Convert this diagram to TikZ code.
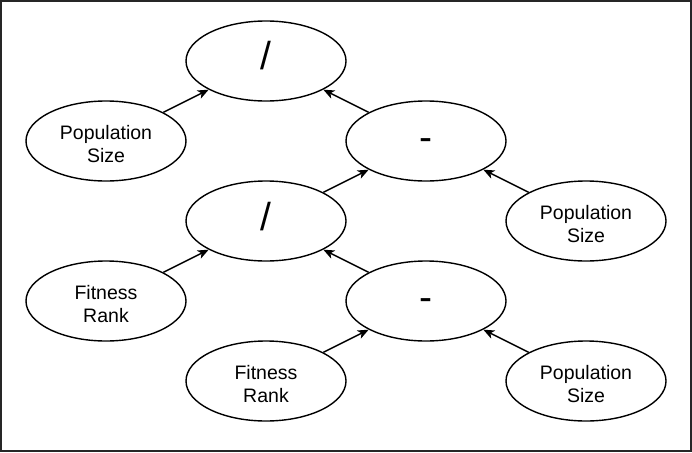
\documentclass[tikz,border=0pt]{standalone}
\usepackage{fontspec}
\setmainfont{Liberation Sans}
\usepackage{tikz}
\usetikzlibrary{shapes.geometric}
\usetikzlibrary{arrows.meta}

\begin{document}
\begin{tikzpicture}[x=1pt,y=-1pt,
	oval/.style={draw,ellipse,line width=1.4pt,minimum width=160pt,minimum height=80pt,inner sep=0pt,align=center,text height=43pt,font=\fontsize{19.5}{23}\selectfont},
	op/.style={oval,font=\fontsize{39}{46}\selectfont,text height=29pt,text depth=11pt},
	link/.style={-{Stealth[length=11pt,width=9pt,inset=3pt]},line width=1.4pt}]
	\useasboundingbox (0,0) rectangle (692,452);
	\draw[line width=2pt,black!85] (1,1) rectangle (691,451);
	% operators
	\node[op] (div top) at (266,61) {/};
	\node[op] (sub top) at (426,141) {-};
	\node[op] (div low) at (266,221) {/};
	\node[op] (sub low) at (426,301) {-};
	% leaves
	\node[oval] (pop a) at (106,141) {Population\\Size};
	\node[oval] (pop b) at (586,221) {Population\\Size};
	\node[oval] (fit a) at (106,301) {Fitness\\Rank};
	\node[oval] (fit b) at (266,381) {Fitness\\Rank};
	\node[oval] (pop c) at (586,381) {Population\\Size};
	% edges
	\draw[link] (pop a) -- (div top);
	\draw[link] (sub top) -- (div top);
	\draw[link] (div low) -- (sub top);
	\draw[link] (pop b) -- (sub top);
	\draw[link] (fit a) -- (div low);
	\draw[link] (sub low) -- (div low);
	\draw[link] (fit b) -- (sub low);
	\draw[link] (pop c) -- (sub low);
\end{tikzpicture}
\end{document}
